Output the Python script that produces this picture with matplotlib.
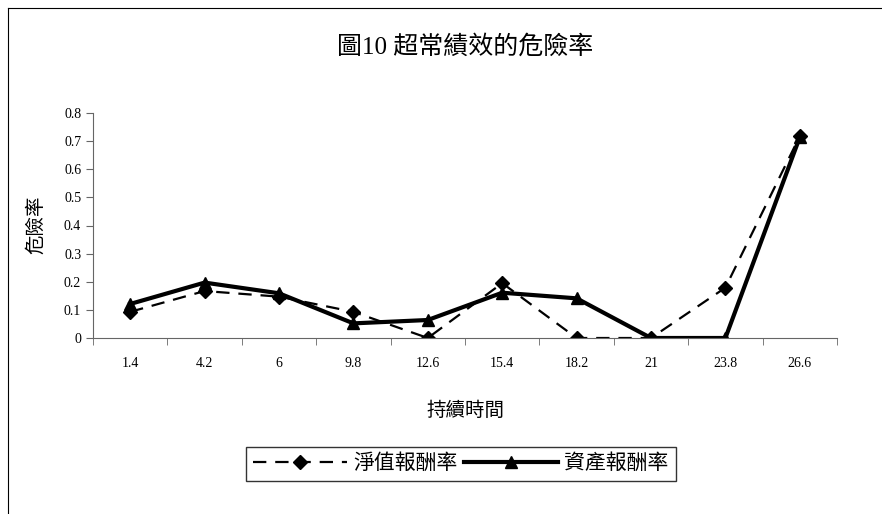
import numpy as np
import matplotlib.pyplot as plt
from matplotlib.lines import Line2D

plt.rcParams['font.family'] = ['Liberation Serif', 'Noto Sans CJK TC', 'DejaVu Sans']

categories = ["1.4", "4.2", "6", "9.8", "12.6", "15.4", "18.2", "21", "23.8", "26.6"]
net_value_return = [0.093, 0.167, 0.147, 0.093, 0.0, 0.195, 0.0, 0.0, 0.179, 0.718]
asset_return = [0.121, 0.197, 0.159, 0.052, 0.064, 0.161, 0.141, 0.0, 0.0, 0.714]

W, H = 882, 514
fig = plt.figure(figsize=(W / 100, H / 100), dpi=100)
ax = fig.add_axes([93 / W, 1 - 338 / H, (837 - 93) / W, (338 - 113) / H])

x = np.arange(len(categories))
ax.plot(x, net_value_return, color="black", lw=1.6, ls=(0, (6, 4)),
        marker="D", ms=7, label="淨值報酬率")
ax.plot(x, asset_return, color="black", lw=3, ls="-",
        marker="^", ms=9, label="資產報酬率")

ax.set_xlim(-0.5, len(categories) - 0.5)
ax.set_ylim(0, 0.8)
ax.set_yticks(np.arange(0, 0.81, 0.1))
ax.set_yticklabels(["0"] + [f"{v:.1f}" for v in np.arange(0.1, 0.81, 0.1)])
ax.set_xticks(x)
ax.set_xticklabels(categories)
ax.set_xticks(np.arange(-0.5, len(categories), 1), minor=True)
ax.tick_params(axis="x", which="major", length=0, pad=14, labelsize=10)
ax.tick_params(axis="x", which="minor", length=5, direction="out", color="#666666")
ax.tick_params(axis="y", length=5, direction="out", labelsize=10, color="#666666")
for s in ["top", "right"]:
    ax.spines[s].set_visible(False)
ax.spines["left"].set_color("#666666")
ax.spines["bottom"].set_color("#666666")

fig.text(465 / W, 1 - 47 / H, "圖10 超常績效的危險率", ha="center", va="center", fontsize=18)
fig.text(36 / W, 1 - 225 / H, "危險率", ha="center", va="center", rotation=90, fontsize=14)
fig.text(465 / W, 1 - 411 / H, "持續時間", ha="center", va="center", fontsize=14)

leg = fig.legend(loc="center", bbox_to_anchor=(461 / W, 1 - 464 / H), ncol=2,
                 fontsize=15, frameon=True, fancybox=False, edgecolor="black",
                 handlelength=4.5, columnspacing=0.3, handletextpad=0.3,
                 borderpad=0.35)
leg.get_frame().set_linewidth(1)

fig.add_artist(Line2D([8 / W, 8 / W], [0, 1 - 8 / H], color="black", lw=0.8))
fig.add_artist(Line2D([8 / W, 1], [1 - 8 / H, 1 - 8 / H], color="black", lw=0.8))

fig.savefig("out.png", dpi=100)
